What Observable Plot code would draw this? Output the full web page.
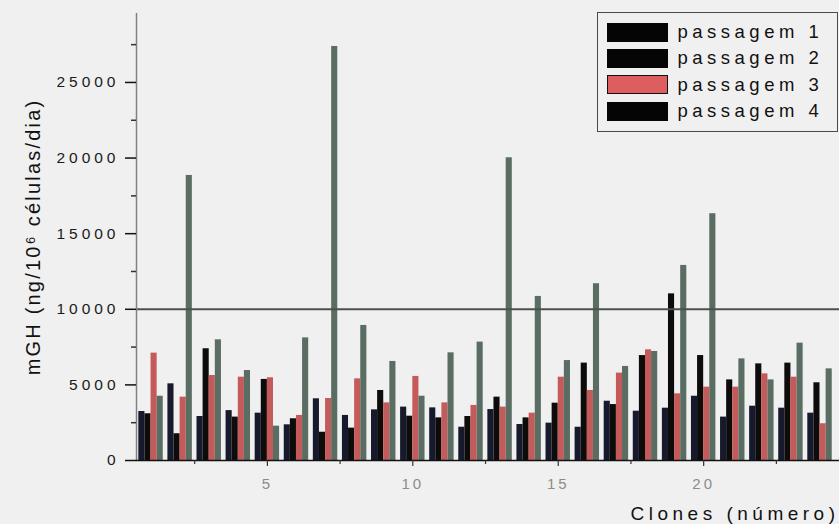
<!DOCTYPE html>
<html>
<head>
<meta charset="utf-8">
<script src="https://cdn.jsdelivr.net/npm/d3@7"></script>
<script src="https://cdn.jsdelivr.net/npm/@observablehq/plot@0.6"></script>
<style>
  html, body { margin: 0; padding: 0; background: #f0f0f0; }
  #wrap { position: relative; width: 839px; height: 524px; overflow: hidden; background: #f0f0f0;
          font-family: "Liberation Sans", Arial, sans-serif; }
  #wrap svg { position: absolute; left: 0; top: 0; }
  #legend { position: absolute; left: 597px; top: 12px; width: 241px; height: 120px;
            border: 1.5px solid #4a4a4a; box-sizing: border-box; background: #f0f0f0; }
  .row { position: absolute; left: 8.5px; height: 19px; display: flex; align-items: center; }
  .sw { width: 61px; height: 19px; box-sizing: border-box; }
  .lab { margin-left: 10px; font-size: 18.5px; letter-spacing: 4.5px; color: #111; white-space: nowrap; }
</style>
</head>
<body>
<div id="wrap"><div id="legend"></div></div>
<script>
// Clone numbers on the x axis
const clones = [1, 2, 3, 4, 5, 6, 7, 8, 9, 10, 11, 12, 13, 14, 15, 16, 17, 18, 19, 20, 21, 22, 23, 24];

// mGH secretion (ng/10^6 células/dia) per clone, one array per passage
const passagem1 = [3240, 5070, 2910, 3300, 3130, 2360, 4080, 2980, 3350, 3530, 3480, 2200,
                   3370, 2380, 2470, 2200, 3920, 3260, 3460, 4250, 2870, 3590, 3460, 3130];
const passagem2 = [3090, 1770, 7390, 2870, 5360, 2760, 1870, 2140, 4630, 2930, 2820, 2910,
                   4190, 2820, 3790, 6440, 3700, 6940, 11020, 6940, 5330, 6390, 6440, 5140];
const passagem3 = [7100, 4190, 5620, 5510, 5470, 2980, 4100, 5400, 3810, 5560, 3810, 3640,
                   3530, 3130, 5510, 4630, 5780, 7320, 4410, 4850, 4850, 5730, 5510, 2430];
const passagem4 = [4250, 18850, 7980, 5950, 2270, 8110, 27380, 8930, 6550, 4250, 7120, 7830,
                   20020, 10850, 6610, 11690, 6220, 7210, 12900, 16320, 6720, 5330, 7760, 6060];

const passageNames = ["passagem 1", "passagem 2", "passagem 3", "passagem 4"];
const series = [passagem1, passagem2, passagem3, passagem4];

// Reference level
const threshold = [10000];

// Axis ticks
const yMajor = [0, 5000, 10000, 15000, 20000, 25000];
const yMinor = [2500, 7500, 12500, 17500, 22500, 27500];
const xMajor = [5, 10, 15, 20];
const xMinor = [2.5, 7.5, 12.5, 17.5, 22.5];

const xDomain = [0.5, 24.67];
const yDomain = [0, 29560];

const yLabel = "mGH (ng/10\u2076 células/dia)";
const xLabel = "Clones (número)";

// Styling
const barFill = ["#161a2c", "#0e0b0b", "#c45a5a", "#5a6d62"];
const legendFill = ["#050505", "#050505", "#dd5e5e", "#050505"];
const legendStroke = [null, null, "#111", null];
const barW = 0.21;        // width of one bar, in clone units
const groupStart = -0.42; // left edge of a group relative to its clone

const font = '"Liberation Sans", Arial, sans-serif';

const bars = series.map((s, k) =>
  Plot.rect(clones, {
    x1: c => c + groupStart + k * barW,
    x2: c => c + groupStart + (k + 1) * barW,
    y1: 0,
    y2: (c, i) => s[i],
    fill: barFill[k]
  })
);

const chart = Plot.plot({
  width: 839,
  height: 524,
  marginLeft: 136,
  marginRight: 0,
  marginTop: 13,
  marginBottom: 64,
  style: { fontFamily: font, background: "transparent", overflow: "visible" },
  x: { domain: xDomain, label: null },
  y: { domain: yDomain, label: null },
  marks: [
    ...bars,
    Plot.ruleY(threshold, { stroke: "#4f4f4f", strokeWidth: 2 }),
    Plot.ruleX([xDomain[0]], { stroke: "#808080", strokeWidth: 1.5 }),
    Plot.ruleY([0], { stroke: "#111", strokeWidth: 1.5 }),
    Plot.axisY(yMajor, { tickSize: 11, tickPadding: 6, tickFormat: d => String(d),
                         fontSize: 15.5, stroke: "#111", strokeWidth: 1.5, label: null }),
    Plot.axisY(yMinor, { tickSize: 5, tickFormat: () => "", stroke: "#333", strokeWidth: 1.5, label: null }),
    Plot.axisX(xMajor, { tickSize: 6, tickPadding: 12, tickFormat: d => String(d),
                         fontSize: 15, stroke: "#333", strokeWidth: 1.2, label: null }),
    Plot.axisX(xMinor, { tickSize: 4, tickFormat: () => "", stroke: "#333", strokeWidth: 1.2, label: null }),
    Plot.text([yLabel], { frameAnchor: "left", textAnchor: "middle", rotate: -90, dx: -103, fontSize: 20, fill: "#111" }),
    Plot.text([xLabel], { frameAnchor: "bottom-right", textAnchor: "end", dy: 59, fontSize: 19, fill: "#111" })
  ]
});

const wrap = document.getElementById("wrap");
wrap.insertBefore(chart, wrap.firstChild);

// Letter spacing and tints for the text
const svg = d3.select(chart);
svg.selectAll('g[aria-label="y-axis tick label"] text').style("letter-spacing", "4px").style("fill", "#1a1a1a");
svg.selectAll('g[aria-label="x-axis tick label"] text').style("letter-spacing", "3px").style("fill", "#8c8c8c");
svg.selectAll("text").each(function () {
  const t = this.textContent;
  if (t === xLabel) d3.select(this).style("letter-spacing", "4.5px");
  if (t === yLabel) d3.select(this).style("letter-spacing", "2.2px");
});

// Legend box
const legend = d3.select("#legend");
const rowTops = [9.5, 35.8, 62.2, 88.5];
passageNames.forEach((name, k) => {
  const row = legend.append("div").attr("class", "row").style("top", rowTops[k] + "px");
  row.append("div").attr("class", "sw")
    .style("background", legendFill[k])
    .style("border", legendStroke[k] ? "1.5px solid " + legendStroke[k] : "none");
  row.append("div").attr("class", "lab").text(name);
});
</script>
</body>
</html>
